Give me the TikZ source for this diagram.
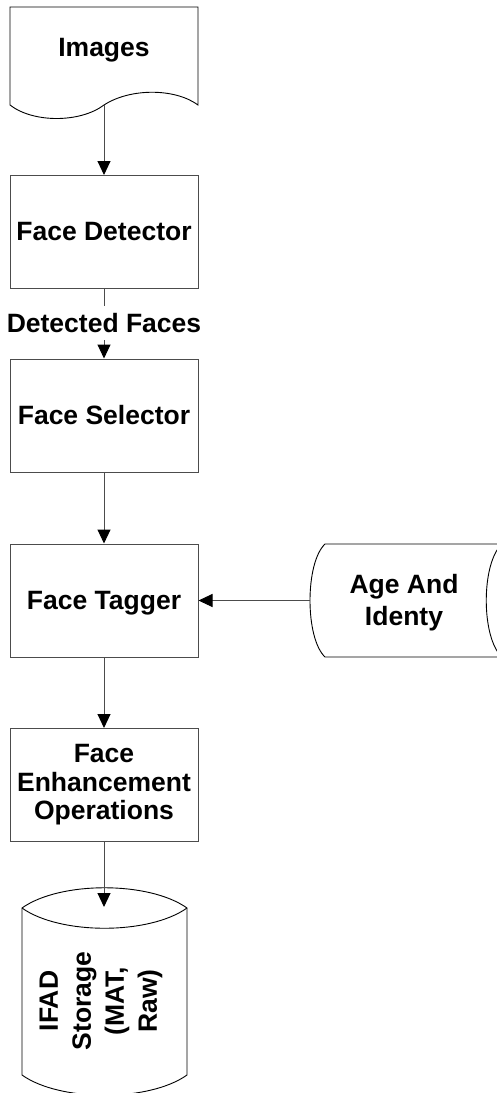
\documentclass[tikz,border=0pt]{standalone}
\usepackage{fontspec}
\setmainfont{Liberation Sans}
\usetikzlibrary{arrows.meta}
\begin{document}
\begin{tikzpicture}[x=1pt,y=-1pt,
  line width=1pt,
  lbl/.style={font=\bfseries\fontsize{26.5}{28.5}\selectfont, align=center, inner sep=0pt},
  procbox/.style={lbl, draw=black!70, minimum width=188pt, minimum height=113pt},
  arr/.style={draw=black!70, -{Triangle[width=13pt,length=14pt,color=black]}},
  shapeline/.style={draw=black, line width=0.9pt}]
\useasboundingbox (0,0) rectangle (496,1093);

% Images (document shape)
\draw[shapeline] (10,7) -- (198,7) -- (198,105)
  .. controls (175,88) and (130,88) .. (104,105)
  .. controls (80,123) and (33,123) .. (10,105) -- cycle;
\node[lbl, text depth=0pt] (img) at (104,47) {Images};
\coordinate (imgb) at (104,105);

% process boxes
\node[procbox] (det) at (104,232) {Face Detector};
\node[lbl, inner ysep=7pt] (dlbl) at (104,323) {Detected Faces};
\node[procbox] (sel) at (104,415.5) {Face Selector};
\node[procbox, text depth=0pt] (tag) at (104,600.5) {Face Tagger};
\node[procbox] (enh) at (104,785) {Face\\Enhancement\\Operations};

% Age And Identy (stored data shape)
\draw[shapeline] (325,544) -- (502,544)
  .. controls (481,563) and (481,638) .. (502,657) -- (325,657)
  .. controls (305,638) and (305,563) .. (325,544) -- cycle;
\node[lbl, font=\bfseries\fontsize{26.5}{32}\selectfont] (age) at (404,602.5) {Age And\\Identy};
\coordinate (agel) at (310,600.5);

% IFAD storage (direct access storage)
\draw[shapeline] (22,908) .. controls (60,881) and (149,881) .. (187,908)
  -- (187,1075) .. controls (149,1102) and (60,1102) .. (22,1075) -- cycle;
\draw[shapeline] (22,908) .. controls (60,935) and (149,935) .. (187,908);
\node[lbl, font=\bfseries\fontsize{26.5}{33}\selectfont, rotate=90] (ifad) at (101,1001) {IFAD\\Storage\\(MAT,\\Raw)};
\coordinate (ifadtop) at (104,907);

% connectors
\draw[arr] (imgb) -- (det.north);
\draw[draw=black!70] (det.south) -- (dlbl.north);
\draw[arr] (dlbl.south) -- (sel.north);
\draw[arr] (sel.south) -- (tag.north);
\draw[arr] (agel) -- (tag.east);
\draw[arr] (tag.south) -- (enh.north);
\draw[arr] (enh.south) -- (ifadtop);
\end{tikzpicture}
\end{document}
